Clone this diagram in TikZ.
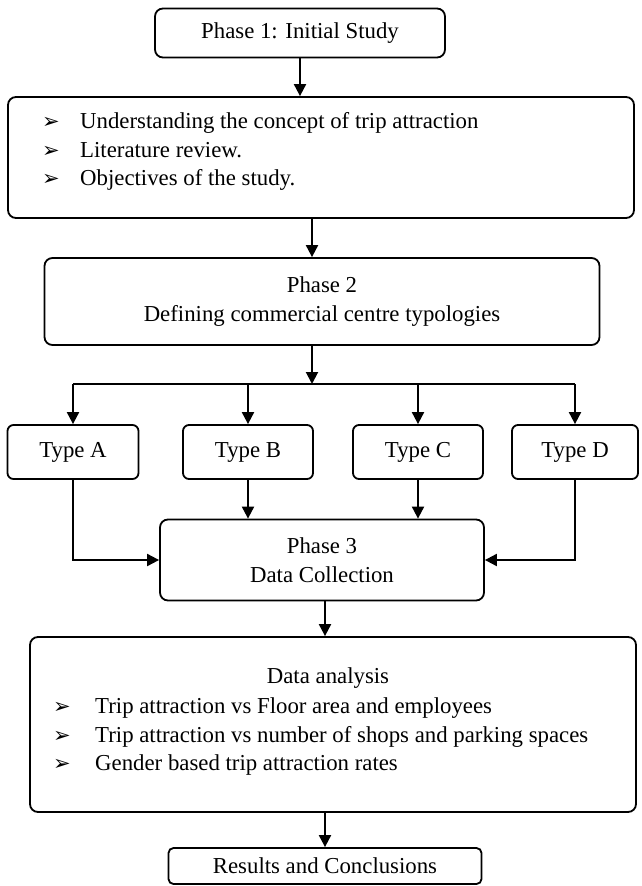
\documentclass[tikz,border=0pt]{standalone}
\usepackage{fontspec}
\setmainfont{Liberation Serif}
\newfontfamily\dejavu{DejaVu Sans}
\usetikzlibrary{arrows.meta}
\newcommand{\bul}{{\dejavu\fontsize{21}{21}\selectfont ➢}}
\begin{document}
\begin{tikzpicture}[x=1pt,y=-1pt,
  every node/.style={font=\fontsize{22.8}{28.5}\selectfont},
  box/.style={draw, line width=1.8pt, rounded corners=8pt, inner sep=0pt},
  small/.style={box, rounded corners=6pt, minimum height=54pt},
  item/.style={anchor=west, inner sep=0pt, text height=15pt, text depth=5pt},
  arr/.style={line width=2pt, -{Triangle[length=12pt,width=12pt]}},
  branch/.style={line width=1.3pt}
]
\useasboundingbox (0,0) rectangle (641,886);

\node[box, minimum width=290pt, minimum height=49pt] (p1) at (300,33) {Phase 1: Initial Study};

\node[box, minimum width=626pt, minimum height=121pt] (b2) at (321,157.5) {};
\node[item] (b2a) at (42,123) {\makebox[38pt][l]{\bul}Understanding the concept of trip attraction};
\node[item] (b2b) at (42,152) {\makebox[38pt][l]{\bul}Literature review.};
\node[item] (b2c) at (42,180) {\makebox[38pt][l]{\bul}Objectives of the study.};

\node[box, minimum width=555pt, minimum height=87pt, align=center] (p2) at (322,301.5) {Phase 2\\Defining commercial centre typologies};

\coordinate (br) at (312,384);

\node[small, minimum width=131pt] (ta) at (73,452) {Type A};
\node[small, minimum width=130pt] (tb) at (248,452) {Type B};
\node[small, minimum width=130pt] (tc) at (418,452) {Type C};
\node[small, minimum width=126pt] (td) at (575,452) {Type D};

\node[box, minimum width=324pt, minimum height=81pt, align=center] (p3) at (322,560) {Phase 3\\Data Collection};

\node[box, minimum width=606pt, minimum height=175pt] (da) at (333,724.5) {};
\node[inner sep=0pt, text height=15pt, text depth=5pt] (dat) at (328,678) {Data analysis};
\node[item] (da1) at (53,708) {\makebox[42pt][l]{\bul}Trip attraction vs Floor area and employees};
\node[item] (da2) at (53,737) {\makebox[42pt][l]{\bul}Trip attraction vs number of shops and parking spaces};
\node[item] (da3) at (53,765) {\makebox[42pt][l]{\bul}Gender based trip attraction rates};

\node[box, rounded corners=5pt, minimum width=313pt, minimum height=36pt] (res) at (325,866) {Results and Conclusions};

\draw[arr] (p1.south) -- (p1.south |- b2.north);
\draw[arr] (b2.south -| br) -- (p2.north -| br);
\draw[arr] (p2.south -| br) -- (br);
\draw[branch] (ta.north |- br) -- (td.north |- br);
\foreach \nm in {ta,tb,tc,td} \draw[arr] (\nm.north |- br) -- (\nm.north);
\draw[arr] (ta.south) |- (p3.west);
\draw[arr] (td.south) |- (p3.east);
\draw[arr] (tb.south) -- (tb.south |- p3.north);
\draw[arr] (tc.south) -- (tc.south |- p3.north);
\draw[arr] (res.north |- p3.south) -- (res.north |- da.north);
\draw[arr] (res.north |- da.south) -- (res.north);
\end{tikzpicture}
\end{document}
